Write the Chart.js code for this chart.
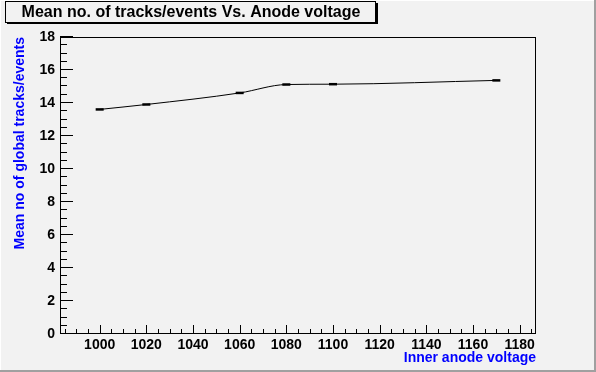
<!DOCTYPE html>
<html>
<head>
<meta charset="utf-8">
<script src="https://cdn.jsdelivr.net/npm/chart.js@4.4.0/dist/chart.umd.min.js"></script>
<style>
  html, body { margin: 0; padding: 0; background: #f2f2f2; }
  #wrap { width: 596px; height: 372px; }
</style>
</head>
<body>
<div id="wrap"><canvas id="c" width="596" height="372"></canvas></div>
<script>
// 데이터
const voltages = [1000, 1020, 1060, 1080, 1100, 1170];
const meanTracks = [13.61, 13.91, 14.61, 15.12, 15.14, 15.37];
const xTickValues = [1000, 1020, 1040, 1060, 1080, 1100, 1120, 1140, 1160, 1180];
const yTickValues = [0, 2, 4, 6, 8, 10, 12, 14, 16, 18];
const chartTitle = 'Mean no. of tracks/events Vs. Anode voltage';
const xTitle = 'Inner anode voltage';
const yTitle = 'Mean no of global tracks/events';

const FONT = '"Liberation Sans", Arial, Helvetica, sans-serif';

// ROOT 스타일 프레임, 안쪽 눈금, 제목 박스
const rootFrame = {
    id: 'rootFrame',
    beforeDraw(chart) {
        const { ctx, width, height } = chart;
        ctx.save();
        ctx.fillStyle = '#f2f2f2';
        ctx.fillRect(0, 0, width, height);
        ctx.fillStyle = '#ffffff';
        ctx.fillRect(0, 0, width, 1);
        ctx.fillRect(0, 0, 1, height);
        ctx.fillStyle = '#a0a0a0';
        ctx.fillRect(width - 2, 0, 2, height);
        ctx.fillRect(0, height - 2, width, 2);
        ctx.restore();
    },
    afterDraw(chart) {
        const { ctx, chartArea: a } = chart;
        const xs = chart.scales.x, ys = chart.scales.y;
        ctx.save();
        ctx.strokeStyle = '#000';
        ctx.lineWidth = 1;
        ctx.strokeRect(a.left + 0.5, a.top + 0.5, a.right - a.left - 1, a.bottom - a.top - 1);

        ctx.beginPath();
        for (let v = 0; v <= 18; v += 0.5) {
            const y = Math.round(ys.getPixelForValue(v)) - 0.5;
            const len = v % 2 === 0 ? 13 : 7;
            ctx.moveTo(a.left, y);
            ctx.lineTo(a.left + len, y);
        }
        for (let v = 985; v <= 1185; v += 5) {
            const x = Math.round(xs.getPixelForValue(v)) + 0.5;
            const len = v % 20 === 0 ? 8 : 4;
            ctx.moveTo(x, a.bottom - 1);
            ctx.lineTo(x, a.bottom - 1 - len);
        }
        ctx.stroke();

        // 제목 박스
        ctx.fillStyle = '#000';
        ctx.strokeRect(5.5, 1.5, 370, 21);
        ctx.fillRect(376, 3, 2, 21);
        ctx.fillRect(7, 22, 371, 2);
        ctx.font = 'bold 16px ' + FONT;
        ctx.textAlign = 'center';
        ctx.textBaseline = 'alphabetic';
        ctx.fillText(chartTitle, 191, 17);
        ctx.restore();
    }
};

const ctx = document.getElementById('c').getContext('2d');
new Chart(ctx, {
    type: 'line',
    data: {
        datasets: [{
            data: voltages.map((v, i) => ({ x: v, y: meanTracks[i] })),
            borderColor: '#000',
            borderWidth: 1,
            cubicInterpolationMode: 'monotone',
            fill: false,
            pointStyle: 'line',
            pointRadius: 4,
            pointBorderWidth: 2.5,
            pointBorderColor: '#000',
            pointBackgroundColor: '#000'
        }]
    },
    options: {
        responsive: false,
        animation: false,
        devicePixelRatio: 1,
        layout: { padding: { left: 0, top: 37, right: 60, bottom: 0 } },
        plugins: { legend: { display: false }, tooltip: { enabled: false } },
        scales: {
            x: {
                type: 'linear',
                min: 983,
                max: 1187,
                grid: { display: false, drawTicks: false },
                border: { display: false },
                afterBuildTicks: s => { s.ticks = xTickValues.map(v => ({ value: v })); },
                afterFit: s => { s.height = 38; s.paddingLeft = 0; s.paddingRight = 0; },
                ticks: {
                    color: '#000',
                    font: { family: FONT, size: 14, weight: 'bold' },
                    padding: 3,
                    maxRotation: 0,
                    autoSkip: false,
                    callback: v => String(v)
                },
                title: {
                    display: true,
                    text: xTitle,
                    align: 'end',
                    color: '#0000ff',
                    font: { family: FONT, size: 14, weight: 'bold' },
                    padding: { top: 0, bottom: 5 }
                }
            },
            y: {
                min: 0,
                max: 18,
                grid: { display: false, drawTicks: false },
                border: { display: false },
                afterBuildTicks: s => { s.ticks = yTickValues.map(v => ({ value: v })); },
                afterFit: s => { s.width = 60; s.paddingTop = 0; s.paddingBottom = 0; },
                ticks: {
                    color: '#000',
                    font: { family: FONT, size: 14, weight: 'bold' },
                    padding: 5,
                    callback: v => String(v)
                },
                title: {
                    display: true,
                    text: yTitle,
                    align: 'end',
                    color: '#0000ff',
                    font: { family: FONT, size: 14, weight: 'bold' },
                    padding: { top: 12, bottom: 0 }
                }
            }
        }
    },
    plugins: [rootFrame]
});
</script>
</body>
</html>
